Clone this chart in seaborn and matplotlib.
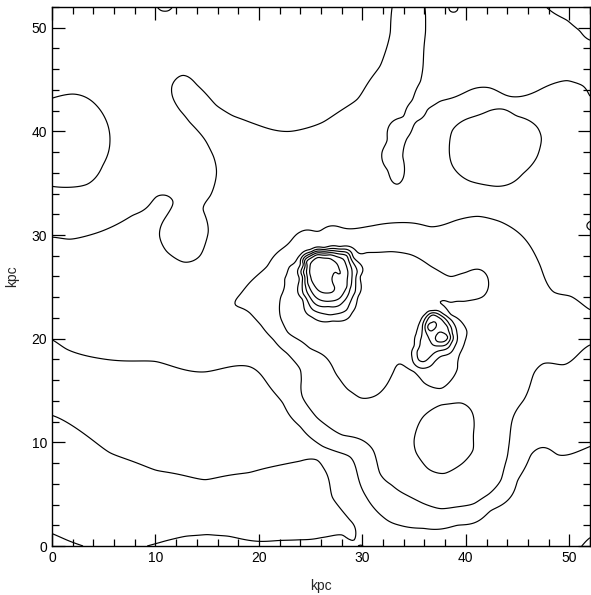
import numpy as np
import pandas as pd
import seaborn as sns
import matplotlib.pyplot as plt
from matplotlib.ticker import MultipleLocator

# contour levels drawn
levels = [1, 2, 3, 4, 4.5, 5, 5.5, 6, 6.5]

# points (kpc) and the level they belong to
g_x = [0, 3, 5.6, 10.1, 14.8, 19.1, 22, 24, 25.6, 26.2, 27.1, 28.8, 30.1]
g_y = [12.6, 10.9, 9, 7.3, 6.4, 7.1, 7.8, 8.2, 8.3, 7.6, 4.7, 2.5, 0]
f1_x = [0, 1.5, 3]
f1_y = [1.2, 0.55, 0]
f2_x = [9.2, 11, 13, 15, 17, 20, 24, 26, 28.1, 29, 29.6]
f2_y = [0, 0.5, 0.95, 1.1, 0.95, 0.45, 0.6, 0.8, 1.05, 0.55, 0]
f3_x = [51.2, 52]
f3_y = [0, 0.8]
h_x = [0, 1.4, 4.6, 10, 14.8, 19.1, 20.8, 22.3, 24, 26.2, 28.8, 29.5, 30.4, 32,
       33.6, 35.9, 39.2, 42.4, 45, 46.3, 48.9, 50.8, 52]
h_y = [19.9, 19, 18.1, 17.8, 16.8, 17.3, 15.7, 13.8, 11.5, 9.6, 8.6, 7.0, 4.7, 2.8,
       2.0, 1.7, 2.0, 3.4, 6.3, 8.8, 8.8, 9.1, 9.6]
b_x = [0, 1.7, 4.6, 7.8, 10.1, 11.1, 11.7, 11.1, 10.4, 11.1, 12.7, 14.3, 15.1, 14.6,
       15.3, 15.9, 15.6, 14.9, 13.3, 12.4, 11.7, 11.6, 12.6, 14, 15.9, 17.5, 19.1, 23,
       26.2, 29.5, 31.7, 32.7, 32.9]
b_y = [29.8, 29.6, 30.3, 31.9, 33.7, 33.8, 33.2, 31.9, 29.9, 28.4, 27.4, 28, 30.3, 32.5,
       33.8, 36.1, 37.6, 39, 40.9, 42, 43.2, 44.4, 45.4, 44.5, 42.5, 41.5, 40.9, 40,
       40.9, 43.1, 46.3, 49.6, 52.1]
c_x = [36, 36.1, 35.9, 35.6, 34.8, 33.9, 32.4, 31.9, 32.4, 33.4, 33.9, 33.9, 34.3,
       35.3, 36.3, 37.5, 40, 42.3, 46.9, 49.8, 51.3, 52]
c_y = [52.2, 49.6, 47, 44.8, 43, 41.4, 39.2, 38, 36.3, 34.9, 35.4, 37.6, 39.3,
       41, 42.1, 42.9, 43.8, 44.2, 43.9, 44.9, 44.4, 43.4]
d_x = [38.4, 38.7, 40.1, 42.3, 44.9, 46.9, 47.3, 46.9, 45.5, 43, 40.4, 38.7]
d_y = [38.3, 40.1, 41.2, 42, 41.5, 40.4, 39.3, 37.6, 35.9, 34.7, 35.2, 36.7]
t1_x = [10.1, 10.9, 11.7]
t1_y = [52.1, 51.6, 52.1]
t2_x = [38.4, 38.8, 39.2]
t2_y = [52.1, 51.5, 52.1]
a_x = [0, 2, 4.3, 5.4, 5.6, 4.9, 3.4, 1.4, 0]
a_y = [43.2, 43.6, 42.5, 40.6, 39, 36.7, 34.9, 34.6, 34.7]
e_x = [47.6, 49.8, 51, 52]
e_y = [52.2, 50.7, 49.7, 48.8]
j_x = [17.7, 18.2, 19.1, 20.8, 22.4, 24, 26.4, 28.8, 31, 33.6, 36.6, 39, 41.2, 43.3,
       45, 46.3, 47.2, 48.5, 50.1, 52,
       52, 51.4, 49.5, 47.5, 46.6, 45.6, 44.6, 44.2, 44, 43.4, 42.2, 40.8, 37.6, 35.9,
       34.3, 32.8, 31.7, 31.3, 31, 30, 28.1, 25.6, 24.2, 24.1, 24, 22.7, 21.4, 20.2, 19.1]
j_y = [23.3, 24.3, 25.4, 27, 28.8, 30.3, 30.7, 30.6, 30.9, 31.2, 30.8, 31.4, 31.8, 31.3,
       30.3, 28.8, 27, 24.5, 24.1, 22.8,
       19.4, 19, 17.5, 17.6, 16.7, 14.1, 12.5, 10, 8.6, 6.4, 5, 4.1, 3.6, 4.1,
       4.9, 5.9, 7, 8.5, 9.3, 10.2, 10.7, 12.4, 14.4, 16, 17, 18.6, 19.9, 21.3, 22.5]
t3_x = [52, 51.7, 52]
t3_y = [30.5, 30.9, 31.3]
egg_x = [35, 35.9, 37.6, 39.5, 40.5, 40.8, 40.7, 39.7, 37.9, 36.3, 35.2]
egg_y = [10.2, 12.5, 13.6, 13.8, 13.1, 11.5, 9.3, 8, 7, 7.5, 9]
i_x = [22.1, 22.5, 23, 24, 24.9, 26.3, 27.8, 30.4, 32.8, 34.7, 36.6, 38.6, 40, 41.2,
       42.2, 41.7, 39.8, 38.6, 38.2, 38.6, 39.4, 40.1, 39.9, 39.4, 39.2, 38.8, 37.6,
       35.9, 35, 34.3, 33, 32, 30.7, 29.8, 28.6, 27.8, 27.1, 24.9, 22.8, 22.1]
i_y = [24, 25.8, 27, 28.1, 28.6, 28.8, 28.9, 28.3, 28.4, 28.1, 27, 26, 26.4, 26.7,
       25.4, 24.1, 23.6, 23.5, 22.8, 22.3, 21.8, 20.7, 19.7, 18.5, 17.2, 16.3, 15.2,
       15.8, 16.8, 17.2, 16.8, 15.1, 14.3, 14.3, 15.1, 16.1, 17.3, 19.1, 20.6, 22]

# western knot, rings 1-5
k1_x = [24, 25.1, 27.1, 29.1, 29.8, 29.6, 29, 27.1, 25.1, 24.2, 23.9]
k1_y = [27.2, 28.4, 28.7, 27.9, 26, 24.1, 22.5, 21.7, 22.1, 23.8, 25.7]
k2_x = [24.3, 25.2, 27.1, 28.8, 29.5, 29.3, 28.5, 26.9, 25.2, 24.3, 24.2]
k2_y = [27.2, 28.3, 28.5, 28, 26.4, 24.5, 22.8, 22.3, 22.8, 24.3, 26]
k3_x = [24.4, 25.4, 26.9, 28.5, 29, 28.8, 28.1, 26.7, 25.2, 24.5, 24.3]
k3_y = [27.4, 28.2, 28.3, 28, 26.4, 24.8, 23.5, 23.1, 23.6, 25.1, 26.4]
k4_x = [24.6, 25.6, 26.9, 28.1, 28.6, 28.5, 27.8, 26.6, 25.4, 24.7, 24.6]
k4_y = [27.4, 28.1, 28.1, 27.7, 26.4, 25, 23.9, 23.6, 24.1, 25.4, 26.4]
k5_x = [25.1, 26.1, 27.1, 27.7, 27.8, 27.3, 27.1, 27.1, 27.3, 27.1, 26.6, 25.7, 25.2, 24.9]
k5_y = [27.4, 27.8, 27.6, 26.9, 26.2, 26.4, 26, 25.5, 25, 24.5, 24.4, 24.7, 25.4, 26.4]

# eastern knot, rings 1-4
q1_x = [36.8, 37.8, 38.6, 39.1, 39.1, 38.6, 37.6, 37, 36.2, 35.3, 34.8, 35, 35.2, 35.6, 36.1]
q1_y = [22.7, 22.4, 21.8, 20.8, 19.6, 18.7, 18.3, 17.8, 17.2, 17.3, 18.2, 19.3, 20.5, 21.7, 22.4]
q2_x = [36.8, 37.8, 38.4, 38.7, 38.6, 38.1, 37.3, 36.7, 36, 35.4, 35.3, 35.6, 35.8, 36.1]
q2_y = [22.5, 22.1, 21.4, 20.5, 19.6, 19, 18.8, 18.4, 17.8, 18, 18.8, 19.8, 21, 22]
q3_x = [36.8, 37.6, 38.2, 38.5, 38.2, 37.4, 36.6, 36.2, 36.1, 36.4]
q3_y = [22.3, 21.9, 21.2, 20.3, 19.5, 19.3, 19.7, 20.5, 21.4, 22]
q4a_x = [36.7, 37.1, 36.7, 36.3]
q4a_y = [21.55, 21.15, 20.75, 21.15]
q4b_x = [37.2, 37.8, 38.25, 37.8, 37.2, 37.05]
q4b_y = [20.45, 20.55, 20.1, 19.7, 19.75, 20.1]

# values inside the regions between contours
hint_x = [3, 6, 10, 15, 20, 24, 26, 6, 15, 22, 0, 28.5, 52,
          0, 5, 10, 15, 20, 22, 31, 36, 42, 48, 52, 31,
          0, 5, 10, 15, 19, 22.5, 31.5, 37, 46, 50, 52, 10, 52,
          17, 18, 20, 25, 29, 30, 36, 38, 44, 48, 50, 52, 49, 36.2, 41, 13.3,
          16.5, 17.5, 14.8, 34.5, 33.7, 31, 30, 32.5,
          20, 24.5, 27, 31, 36, 40, 44, 47, 52, 43, 42, 42, 38, 34, 33, 28, 25, 23, 35, 42,
          43, 40.3,
          37.9,
          23, 31, 32, 31, 35, 33, 40, 29.5, 37.5, 30.5, 37, 40.5, 36, 34.5,
          26.2, 27.6, 36.7, 37.7, 37.05, 35.7,
          3, 10, 18, 26, 31, 8, 12.8, 9, 2, 0, 2, 13.3, 13.5, 14, 12, 10.9,
          40, 45, 50, 36, 33.1, 33.5, 35.2, 36.3, 38, 52, 42.8, 38.8]
hint_y = [6, 4.5, 4, 3.7, 4, 5, 3, 0.3, 0.2, 0, 0, 1.6, 0,
          16, 14, 12.5, 11.5, 12, 10, 1, 0, 0.5, 4, 5, 0.3,
          25, 24.5, 22.5, 21, 19.8, 16, 5, 2.7, 12, 13.5, 14, 26, 30.9,
          29, 34, 37, 37, 37, 34, 34, 32.8, 33, 33, 30, 28, 38, 38.5, 42.9, 43,
          39, 38.5, 41, 50, 46, 41, 38, 44,
          24, 29.5, 29.8, 29.6, 29.5, 29.5, 28.5, 22, 21, 20, 15, 8, 5.5, 7, 11, 13, 16, 19.5, 14, 11,
          23, 22.9,
          10.4,
          23, 26, 21, 17, 25, 27.3, 25, 16, 16.6, 22, 24.6, 25.2, 23.5, 21,
          26, 25.7, 21.15, 20.1, 20.55, 18.7,
          48, 49, 48, 46, 51, 34, 30, 40, 32, 46, 39, 34.5, 32, 38, 40, 52,
          48, 47, 46, 43.6, 37.5, 40, 42, 44.5, 50, 52, 38.4, 52]
hint_v = [0.5, 0.5, 0.5, 0.5, 0.5, 0.5, 0.6, 0.85, 1.15, 1.1, 1.15, 0.8, 0.9,
          1.5, 1.5, 1.5, 1.5, 1.5, 1.5, 1.5, 1.6, 1.5, 1.5, 1.5, 1.3,
          2.6, 2.6, 2.6, 2.6, 2.5, 2.5, 2.5, 2.5, 2.5, 2.5, 2.5, 2.6, 3.15,
          2.5, 2.4, 2.3, 2.4, 2.4, 2.5, 2.5, 2.6, 2.4, 2.4, 2.5, 2.5, 2.3, 2.2, 2.1, 2.1,
          2.25, 2.3, 2.15, 2.3, 2.3, 2.3, 2.4, 2.3,
          3.3, 3.4, 3.4, 3.5, 3.5, 3.5, 3.5, 3.6, 3.3, 3.8, 3.6, 3.4, 3.4, 3.4, 3.5, 3.5, 3.5, 3.6, 3.6, 3.4,
          3.7, 3.8,
          2.6,
          4.2, 4.3, 4.4, 4.3, 4.3, 4.2, 4.2, 4.1, 4.2, 4.4, 4.2, 4.2, 4.3, 4.35,
          6.8, 6.3, 6.3, 6.3, 5.7, 5.2,
          1.5, 1.5, 1.5, 1.5, 1.6, 1.6, 1.8, 1.4, 1.6, 1.4, 0.6, 1.75, 1.75, 1.75, 1.6, 2.2,
          1.5, 1.5, 1.4, 1.8, 1.85, 1.8, 1.85, 1.75, 1.5, 0.7, 1.6, 2.2]

traced = [(g_x, g_y, 1), (f1_x, f1_y, 1), (f2_x, f2_y, 1), (f3_x, f3_y, 1),
          (a_x, a_y, 1), (e_x, e_y, 1),
          (h_x, h_y, 2), (b_x, b_y, 2), (c_x, c_y, 2), (d_x, d_y, 2),
          (t1_x, t1_y, 2), (t2_x, t2_y, 2),
          (j_x, j_y, 3), (egg_x, egg_y, 3), (t3_x, t3_y, 3), (i_x, i_y, 4),
          (k1_x, k1_y, 4.5), (k2_x, k2_y, 5), (k3_x, k3_y, 5.5), (k4_x, k4_y, 6), (k5_x, k5_y, 6.5),
          (q1_x, q1_y, 4.5), (q2_x, q2_y, 5), (q3_x, q3_y, 5.5), (q4a_x, q4a_y, 6), (q4b_x, q4b_y, 6)]

frames = [pd.DataFrame({"x": xs, "y": ys, "v": lev}) for xs, ys, lev in traced]
frames.append(pd.DataFrame({"x": hint_x, "y": hint_y, "v": hint_v}))
pts = pd.concat(frames, ignore_index=True)


def tps(r):
    with np.errstate(divide="ignore", invalid="ignore"):
        out = r * r * np.log(r)
    return np.nan_to_num(out)


# thin-plate surface through the sampled values
px, py, pv = pts["x"].values, pts["y"].values, pts["v"].values
n = len(px)
dist = np.hypot(px[:, None] - px[None, :], py[:, None] - py[None, :])
K = tps(dist) + 0.005 * np.eye(n)
P = np.column_stack([np.ones(n), px, py])
A = np.zeros((n + 3, n + 3))
A[:n, :n] = K
A[:n, n:] = P
A[n:, :n] = P.T
sol = np.linalg.solve(A, np.concatenate([pv, np.zeros(3)]))
w, coef = sol[:n], sol[n:]

grid = np.linspace(0, 52, 341)
X, Y = np.meshgrid(grid, grid)
Z = np.empty_like(X)
for r in range(len(grid)):
    dd = np.hypot(X[r][:, None] - px[None, :], Y[r][:, None] - py[None, :])
    Z[r] = tps(dd) @ w + coef[0] + coef[1] * X[r] + coef[2] * Y[r]

sns.set_style("ticks")
plt.rcParams["font.family"] = ["Liberation Sans", "DejaVu Sans"]

fig = plt.figure(figsize=(5.91, 5.95), dpi=100)
ax = fig.add_axes([52 / 591, 49 / 595, 538 / 591, 539 / 595])
ax.contour(X, Y, Z, levels=levels, colors="black", linewidths=0.85)
ax.set_xlim(0, 52)
ax.set_ylim(0, 52)
ax.xaxis.set_major_locator(MultipleLocator(10))
ax.yaxis.set_major_locator(MultipleLocator(10))
ax.xaxis.set_minor_locator(MultipleLocator(2))
ax.yaxis.set_minor_locator(MultipleLocator(2))
ax.tick_params(which="both", direction="in", top=True, right=True, labelsize=10, colors="black")
ax.tick_params(which="major", length=9, width=0.9)
ax.tick_params(which="minor", length=5, width=0.9)
for s in ax.spines.values():
    s.set_linewidth(1.0)
    s.set_color("black")
ax.set_xlabel("kpc", fontsize=10, labelpad=10)
ax.set_ylabel("kpc", fontsize=10, labelpad=9)

fig.savefig("out.png", dpi=100)
